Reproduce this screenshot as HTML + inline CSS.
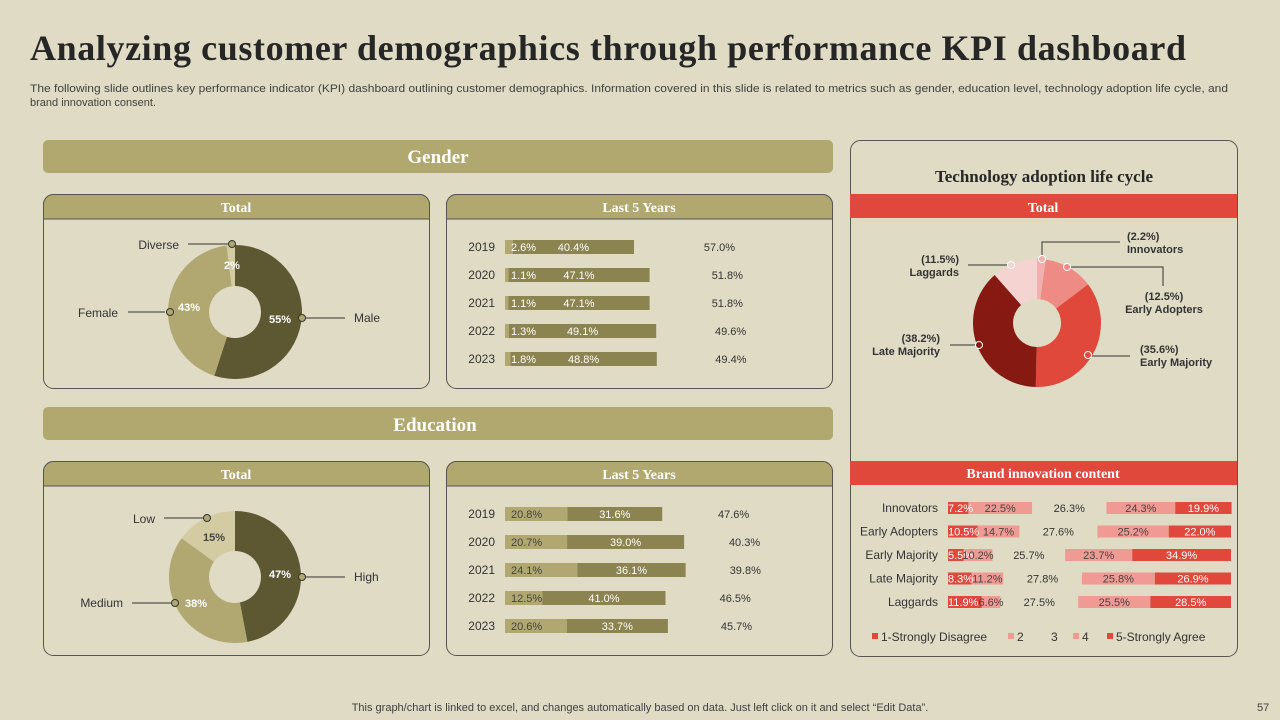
<!DOCTYPE html>
<html><head><meta charset="utf-8"><style>
html,body{margin:0;padding:0;background:#dfdbc5;}
svg{display:block;font-family:"Liberation Sans",sans-serif;}
</style></head><body>
<svg id="s" width="1280" height="720" viewBox="0 0 1280 720" xmlns="http://www.w3.org/2000/svg">
<rect width="1280" height="720" fill="#dfdbc5"/>
<text x="30" y="60" font-family="Liberation Serif,serif" font-weight="bold" font-size="36" fill="#262626" textLength="1156" lengthAdjust="spacing">Analyzing customer demographics through performance KPI dashboard</text>
<text x="30" y="92" font-size="11" fill="#404040" textLength="1198" lengthAdjust="spacingAndGlyphs">The following slide outlines key performance indicator (KPI) dashboard outlining customer demographics. Information covered in this slide is related to metrics such as gender, education level, technology adoption life cycle, and</text>
<text x="30" y="106" font-size="11" fill="#404040">brand innovation consent.</text>

<rect x="43" y="140" width="790" height="33" rx="5" fill="#b1a86f"/>
<text x="438" y="163" text-anchor="middle" font-family="Liberation Serif,serif" font-weight="bold" font-size="19" fill="#fff">Gender</text>
<rect x="43" y="407" width="790" height="33" rx="5" fill="#b1a86f"/>
<text x="435" y="431" text-anchor="middle" font-family="Liberation Serif,serif" font-weight="bold" font-size="19" fill="#fff">Education</text>

<g>
<rect x="43.5" y="194.5" width="386" height="194" rx="10" fill="none" stroke="#555"/>
<path d="M43.5 219 V204.5 a10 10 0 0 1 10 -10 H419.5 a10 10 0 0 1 10 10 V219 Z" fill="#b1a86f" stroke="#555"/>
<text x="236" y="212" text-anchor="middle" font-family="Liberation Serif,serif" font-weight="bold" font-size="14" fill="#fff">Total</text>
</g>
<g>
<rect x="446.5" y="194.5" width="386" height="194" rx="10" fill="none" stroke="#555"/>
<path d="M446.5 219 V204.5 a10 10 0 0 1 10 -10 H822.5 a10 10 0 0 1 10 10 V219 Z" fill="#b1a86f" stroke="#555"/>
<text x="639" y="212" text-anchor="middle" font-family="Liberation Serif,serif" font-weight="bold" font-size="14" fill="#fff">Last 5 Years</text>
</g>
<g>
<rect x="43.5" y="461.5" width="386" height="194" rx="10" fill="none" stroke="#555"/>
<path d="M43.5 486 V471.5 a10 10 0 0 1 10 -10 H419.5 a10 10 0 0 1 10 10 V486 Z" fill="#b1a86f" stroke="#555"/>
<text x="236" y="479" text-anchor="middle" font-family="Liberation Serif,serif" font-weight="bold" font-size="14" fill="#fff">Total</text>
</g>
<g>
<rect x="446.5" y="461.5" width="386" height="194" rx="10" fill="none" stroke="#555"/>
<path d="M446.5 486 V471.5 a10 10 0 0 1 10 -10 H822.5 a10 10 0 0 1 10 10 V486 Z" fill="#b1a86f" stroke="#555"/>
<text x="639" y="479" text-anchor="middle" font-family="Liberation Serif,serif" font-weight="bold" font-size="14" fill="#fff">Last 5 Years</text>
</g>

<g>
<rect x="850.5" y="140.5" width="387" height="516" rx="10" fill="none" stroke="#555"/>
<text x="1044" y="182" text-anchor="middle" font-family="Liberation Serif,serif" font-weight="bold" font-size="17" fill="#262626">Technology adoption life cycle</text>
<rect x="850" y="194" width="387" height="24" fill="#e0483c"/>
<text x="1043" y="212" text-anchor="middle" font-family="Liberation Serif,serif" font-weight="bold" font-size="14" fill="#fff">Total</text>
<rect x="850" y="461" width="387" height="24" fill="#e0483c"/>
<text x="1043" y="478" text-anchor="middle" font-family="Liberation Serif,serif" font-weight="bold" font-size="14" fill="#fff">Brand innovation  content</text>
</g>

<text x="640" y="711" text-anchor="middle" font-size="11" fill="#404040">This graph/chart is linked to excel,  and changes automatically based on data. Just left click on it and select “Edit Data”.</text>
<text x="1257" y="711" font-size="11" fill="#404040">57</text>
<g id="charts"></g>
</svg>
<script>
const NS="http://www.w3.org/2000/svg";
const root=document.getElementById('charts');
function mk(tag,attrs,parent,txt){const e=document.createElementNS(NS,tag);for(const k in attrs)e.setAttribute(k,attrs[k]);if(txt!==undefined)e.textContent=txt;(parent||root).appendChild(e);return e;}

// Gender donut
const genderLabels=["Male","Female","Diverse"];
const genderValues=[55,43,2];
// Education donut
const eduLabels=["High","Medium","Low"];
const eduValues=[47,38,15];
// Tech adoption donut
const techLabels=["Innovators","Early Adopters","Early Majority","Late Majority","Laggards"];
const techValues=[2.2,12.5,35.6,38.2,11.5];
// Gender last 5 years
const years=["2019","2020","2021","2022","2023"];
const genderS1=[2.6,1.1,1.1,1.3,1.8];
const genderS2=[40.4,47.1,47.1,49.1,48.8];
const genderS3=[57.0,51.8,51.8,49.6,49.4];
// Education last 5 years
const eduS1=[20.8,20.7,24.1,12.5,20.6];
const eduS2=[31.6,39.0,36.1,41.0,33.7];
const eduS3=[47.6,40.3,39.8,46.5,45.7];
// Brand innovation
const brandCats=["Innovators","Early Adopters","Early Majority","Late Majority","Laggards"];
const brand1=[7.2,10.5,5.5,8.3,11.9];
const brand2=[22.5,14.7,10.2,11.2,6.6];
const brand3=[26.3,27.6,25.7,27.8,27.5];
const brand4=[24.3,25.2,23.7,25.8,25.5];
const brand5=[19.9,22.0,34.9,26.9,28.5];
const brandLegend=["1-Strongly Disagree","2","3","4","5-Strongly Agree"];

function pt(cx,cy,r,f){const a=f*2*Math.PI-Math.PI/2;return [cx+r*Math.cos(a),cy+r*Math.sin(a)];}
function arc(cx,cy,ro,ri,f0,f1){const [x0,y0]=pt(cx,cy,ro,f0),[x1,y1]=pt(cx,cy,ro,f1),[x2,y2]=pt(cx,cy,ri,f1),[x3,y3]=pt(cx,cy,ri,f0);const l=(f1-f0)>0.5?1:0;
return `M${x0} ${y0}A${ro} ${ro} 0 ${l} 1 ${x1} ${y1}L${x2} ${y2}A${ri} ${ri} 0 ${l} 0 ${x3} ${y3}Z`;}
function donut(name,cx,cy,ro,ri,vals,cols){const tot=vals.reduce((a,b)=>a+b,0);let c=0;
vals.forEach((v,i)=>{const f0=c/tot,f1=(c+v)/tot;const p=mk('path',{d:arc(cx,cy,ro,ri,f0,f1),fill:cols[i]});


c+=v;});}

// Gender donut
{const cx=235,cy=312;donut('gender',cx,cy,67,26,genderValues,["#5d5832","#b0a870","#d3cca3"]);
const lab=[{dot:[302,318],lx:[305,345],tx:354,ty:322,pc:[280,323]},
{dot:[170,312],lx:[128,165],tx:118,ty:317,anchor:'end',pc:[189,311]},
{dot:[232,244],lx:[188,228],tx:179,ty:249,anchor:'end',pc:[232,269]}];
lab.forEach((L,i)=>{mk('line',{x1:L.lx[0],y1:L.dot[1],x2:L.lx[1],y2:L.dot[1],stroke:'#333',});
const d=mk('circle',{cx:L.dot[0],cy:L.dot[1],r:3.5,fill:'#b0a870',stroke:'#333','stroke-width':1});


const t=mk('text',{x:L.tx,y:L.ty,'font-size':12,fill:'#333','text-anchor':L.anchor||'start'},null,genderLabels[i]);


const v=mk('text',{x:L.pc[0],y:L.pc[1],'font-size':11,'font-weight':'bold',fill:'#fff','text-anchor':'middle'},null,genderValues[i]+'%');

});}

// Education donut
{const cx=235,cy=577;donut('education',cx,cy,66,26,eduValues,["#5d5832","#b0a870","#d3cca3"]);
const lab=[{dot:[302,577],l:[305,345],tx:354,ty:581,pc:[280,578]},
{dot:[175,603],l:[132,171],tx:123,ty:607,a:'end',pc:[196,607]},
{dot:[207,518],l:[164,203],tx:155,ty:523,a:'end',pc:[214,541]}];
lab.forEach((L,i)=>{mk('line',{x1:L.l[0],y1:L.dot[1],x2:L.l[1],y2:L.dot[1],stroke:'#333',});
const d=mk('circle',{cx:L.dot[0],cy:L.dot[1],r:3.5,fill:'#b0a870',stroke:'#333'});


const t=mk('text',{x:L.tx,y:L.ty,'font-size':12,fill:'#333','text-anchor':L.a||'start'},null,eduLabels[i]);


const v=mk('text',{x:L.pc[0],y:L.pc[1],'font-size':11,'font-weight':'bold',fill:i==2?'#444':'#fff','text-anchor':'middle'},null,eduValues[i]+'%');

});}

// Tech donut
{const cx=1037,cy=323;donut('tech',cx,cy,64,24,techValues,["#f0b0ae","#ee8b84","#e0483c","#861a12","#f5d3d0"]);
const L=[{dot:[1042,259],path:"M1042 255 V242 H1120",tx:1127,t1y:240,t2y:253,a:'start'},
{dot:[1067,267],path:"M1071 267 H1163 V286",tx:1164,t1y:300,t2y:313,a:'middle'},
{dot:[1088,355],path:"M1092 356 H1130",tx:1140,t1y:353,t2y:366,a:'start'},
{dot:[979,345],path:"M950 345 H975",tx:940,t1y:342,t2y:355,a:'end'},
{dot:[1011,265],path:"M968 265 H1007",tx:959,t1y:263,t2y:276,a:'end'}];
const fills=["#f0b0ae","#ee8b84","#e0483c","#861a12","#f5d3d0"];
L.forEach((o,i)=>{mk('path',{d:o.path,fill:'none',stroke:'#333',});
const d=mk('circle',{cx:o.dot[0],cy:o.dot[1],r:3.5,fill:fills[i],stroke:'#fff'});


const t1=mk('text',{x:o.tx,y:o.t1y,'font-size':11,'font-weight':'bold',fill:'#333','text-anchor':o.a},null,'('+techValues[i].toFixed(1)+'%)');


const t2=mk('text',{x:o.tx,y:o.t2y,'font-size':11,'font-weight':'bold',fill:'#333','text-anchor':o.a},null,techLabels[i]);

});}

// stacked bars
function stack(prefix,x0,y0,step,h,scale,series,cols,txtCols,labelOffsets,cats,catX,catAnchor,catSize){
const labels=[];
cats.forEach((c,i)=>{const y=y0+i*step;
const cl=mk('text',{x:catX,y:y+h/2+4,'font-size':catSize,fill:'#333','text-anchor':catAnchor},null,c);


let x=x0;series.forEach((s,k)=>{const w=s[i]*scale;
if(cols[k]){const r=mk('rect',{x:x,y:y,width:w,height:h,fill:cols[k]});

}
labels.push({x:x+(labelOffsets[k]==null?w/2:labelOffsets[k]),y:y+h/2+4,k:k,v:s[i]});
x+=w;});});
labels.forEach(L=>{const t=mk('text',{x:L.x,y:L.y,'font-size':11,fill:txtCols[L.k],'text-anchor':labelOffsets[L.k]==null?'middle':'start'},null,L.v.toFixed(1)+'%');

});}
stack('gender-years',505,240,28,14,3.0,[genderS1,genderS2,genderS3],["#b0a870","#8b8350",null],["#fff","#fff","#333"],[6,null,null],years,495,'end',12);
stack('education-years',505,507,28,14,3.0,[eduS1,eduS2,eduS3],["#b0a870","#8b8350",null],["#444","#fff","#333"],[6,null,null],years,495,'end',12);
stack('brand',948,502,23.5,12,2.83,[brand1,brand2,brand3,brand4,brand5],["#e0483c","#ef9a93",null,"#ef9a93","#e0483c"],["#fff","#444","#333","#444","#fff"],[0,null,null,null,null],brandCats,938,'end',12);

// brand legend
{const lx=[872,1008,1042,1073,1107];const lc=["#e0483c","#ef9a93",null,"#ef9a93","#e0483c"];
brandLegend.forEach((l,i)=>{if(lc[i]){const r=mk('rect',{x:lx[i],y:633,width:6,height:6,fill:lc[i]});}
const t=mk('text',{x:lx[i]+9,y:641,'font-size':12,fill:'#333'},null,l);

});}
</script>
</body></html>
